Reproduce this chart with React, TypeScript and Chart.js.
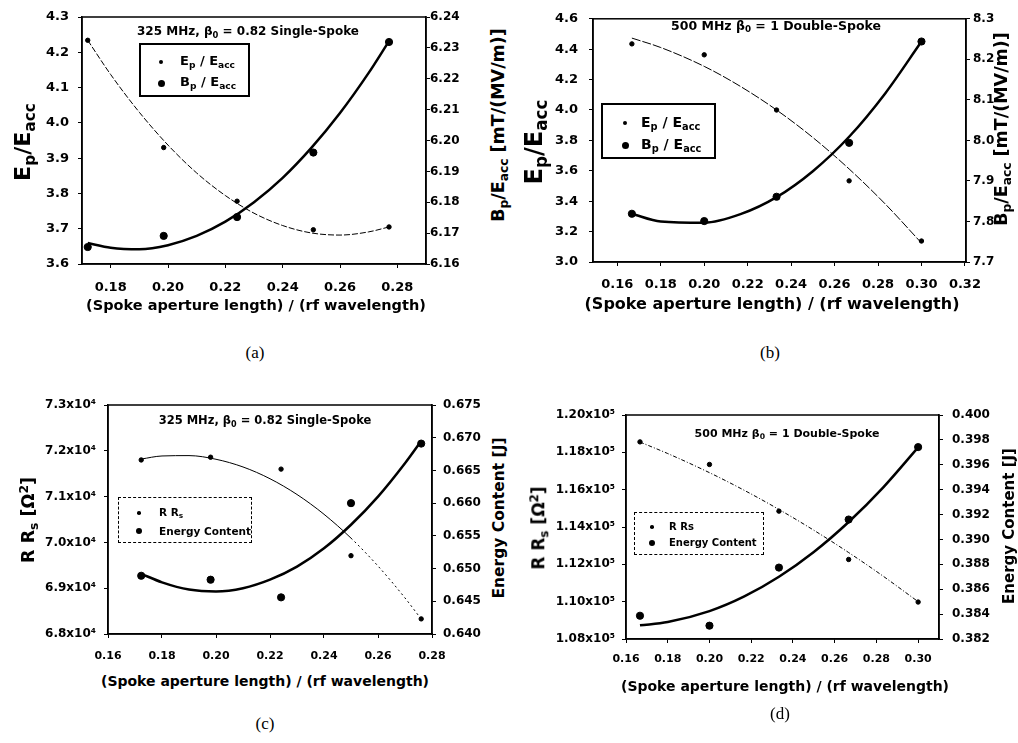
import React, { useEffect, useRef } from "react";
import { Chart, registerables } from "chart.js";
Chart.register(...registerables);

// ---------- (a) 325 MHz, beta0 = 0.82 single-spoke : peak fields ----------
const aX = [0.172, 0.1985, 0.2241, 0.2507, 0.2771];
const aEp = [4.234, 3.93, 3.778, 3.697, 3.705];
const aBp = [6.1655, 6.1691, 6.1752, 6.1961, 6.2319];
const aFitX = [0.172, 0.18, 0.19, 0.2, 0.21, 0.22, 0.23, 0.24, 0.25, 0.26, 0.27, 0.2771];
const aEpFit = [4.234, 4.137, 4.03, 3.937, 3.858, 3.794, 3.744, 3.709, 3.688, 3.682, 3.691, 3.705];
const aBpFit = [6.1668, 6.1653, 6.1648, 6.1661, 6.1691, 6.1737, 6.18, 6.1879, 6.1976, 6.2089, 6.2219, 6.2322];
const aXTicks = [0.18, 0.2, 0.22, 0.24, 0.26, 0.28];
const aYTicks = [3.6, 3.7, 3.8, 3.9, 4.0, 4.1, 4.2, 4.3];
const aY2Ticks = [6.16, 6.17, 6.18, 6.19, 6.2, 6.21, 6.22, 6.23, 6.24];

// ---------- (b) 500 MHz, beta0 = 1 double-spoke : peak fields ----------
const bX = [0.1667, 0.2, 0.2333, 0.2667, 0.3];
const bEp = [4.435, 4.363, 4.0, 3.534, 3.138];
const bBp = [7.819, 7.801, 7.861, 7.994, 8.244];
const bFitX = [0.1667, 0.18, 0.2, 0.2167, 0.2333, 0.25, 0.2667, 0.2833, 0.3];
const bEpFit = [4.473, 4.411, 4.287, 4.155, 4.0, 3.819, 3.612, 3.382, 3.125];
const bBpFit = [7.819, 7.8, 7.797, 7.818, 7.86, 7.924, 8.009, 8.116, 8.244];
const bXTicks = [0.16, 0.18, 0.2, 0.22, 0.24, 0.26, 0.28, 0.3, 0.32];
const bYTicks = [3.0, 3.2, 3.4, 3.6, 3.8, 4.0, 4.2, 4.4, 4.6];
const bY2Ticks = [7.7, 7.8, 7.9, 8.0, 8.1, 8.2, 8.3];

// ---------- (c) 325 MHz single-spoke : R Rs and energy ----------
const cX = [0.1723, 0.198, 0.2241, 0.25, 0.276];
const cRRs = [71800, 71860, 71600, 69710, 68330];
const cEnergy = [0.6489, 0.6483, 0.6456, 0.66, 0.6691];
const cFitX = [0.1723, 0.18, 0.19, 0.2, 0.21, 0.22, 0.23, 0.24, 0.25, 0.26, 0.27, 0.276];
const cRRsFit = [71820, 71887, 71895, 71815, 71647, 71390, 71046, 70614, 70093, 69484, 68787, 68326];
const cEnergyFit = [0.6492, 0.6479, 0.6468, 0.6465, 0.647, 0.6483, 0.6503, 0.6531, 0.6567, 0.661, 0.6661, 0.6695];
const cXTicks = [0.16, 0.18, 0.2, 0.22, 0.24, 0.26, 0.28];
const cYTicks = [68000, 69000, 70000, 71000, 72000, 73000];
const cY2Ticks = [0.64, 0.645, 0.65, 0.655, 0.66, 0.665, 0.67, 0.675];

// ---------- (d) 500 MHz double-spoke : R Rs and energy ----------
const dX = [0.1667, 0.2, 0.2333, 0.2667, 0.3];
const dRRs = [118560, 117350, 114850, 112260, 109980];
const dEnergy = [0.38387, 0.38307, 0.38774, 0.3916, 0.39742];
const dFitX = [0.1667, 0.18, 0.2, 0.2167, 0.2333, 0.25, 0.2667, 0.2833, 0.3];
const dRRsFit = [118550, 117935, 116910, 115964, 114940, 113827, 112632, 111361, 110000];
const dEnergyFit = [0.3831, 0.38336, 0.38424, 0.38542, 0.387, 0.38899, 0.3914, 0.39419, 0.3974];
const dXTicks = [0.16, 0.18, 0.2, 0.22, 0.24, 0.26, 0.28, 0.3];
const dYTicks = [108000, 110000, 112000, 114000, 116000, 118000, 120000];
const dY2Ticks = [0.382, 0.384, 0.386, 0.388, 0.39, 0.392, 0.394, 0.396, 0.398, 0.4];

const FONT = "'DejaVu Sans', 'Liberation Sans', sans-serif";

type AxisCfg = {
  min: number;
  max: number;
  ticks: number[];
  fmt: (v: number) => string;
  size: number;
  pad: number;
};

type PanelCfg = {
  left: number;
  top: number;
  w: number;
  h: number;
  padTop: number;
  leftW: number;
  rightW: number;
  xH: number;
  x: AxisCfg;
  y: AxisCfg;
  y2: AxisCfg;
  fitX: number[];
  fit1: number[];
  fit2: number[];
  px: number[];
  s1: number[];
  s2: number[];
  dash1: number[];
  dashAfter?: number;
};

const boxPlugin = {
  id: "frameBox",
  afterDraw(chart: any) {
    const { ctx, chartArea: a } = chart;
    ctx.save();
    ctx.strokeStyle = "#000";
    ctx.lineWidth = 1.5;
    ctx.strokeRect(a.left, a.top, a.right - a.left, a.bottom - a.top);
    ctx.restore();
  },
};

function axisOpts(c: AxisCfg, extra: any) {
  return {
    type: "linear",
    min: c.min,
    max: c.max,
    afterBuildTicks: (s: any) => {
      s.ticks = c.ticks.map((v) => ({ value: v }));
    },
    ticks: {
      callback: (v: any) => c.fmt(Number(v)),
      color: "#000",
      font: { family: FONT, weight: "bold", size: c.size },
      padding: c.pad,
      autoSkip: false,
      maxRotation: 0,
      minRotation: 0,
    },
    grid: {
      display: true,
      drawOnChartArea: false,
      drawTicks: true,
      tickLength: 4,
      color: "#000",
      lineWidth: 1,
    },
    border: { display: true, color: "#000", width: 1.5 },
    ...extra,
  };
}

function Panel({ cfg }: { cfg: PanelCfg }) {
  const ref = useRef<HTMLCanvasElement | null>(null);
  useEffect(() => {
    if (!ref.current) return;
    const dashAfter = cfg.dashAfter;
    const chart = new Chart(ref.current, {
      type: "scatter",
      data: {
        datasets: [
          {
            type: "line",
            data: cfg.fitX.map((x, i) => ({ x, y: cfg.fit1[i] })),
            yAxisID: "y",
            borderColor: "#000",
            borderWidth: 1,
            borderDash: dashAfter === undefined ? cfg.dash1 : [],
            segment:
              dashAfter === undefined
                ? undefined
                : { borderDash: (ctx: any) => (ctx.p0.parsed.x >= dashAfter ? cfg.dash1 : undefined) },
            pointRadius: 0,
            cubicInterpolationMode: "monotone",
            fill: false,
          } as any,
          {
            type: "line",
            data: cfg.fitX.map((x, i) => ({ x, y: cfg.fit2[i] })),
            yAxisID: "y2",
            borderColor: "#000",
            borderWidth: 2.5,
            pointRadius: 0,
            cubicInterpolationMode: "monotone",
            fill: false,
          } as any,
          {
            type: "scatter",
            data: cfg.px.map((x, i) => ({ x, y: cfg.s1[i] })),
            yAxisID: "y",
            pointRadius: 2.2,
            pointStyle: "circle",
            backgroundColor: "#000",
            borderColor: "#000",
          } as any,
          {
            type: "scatter",
            data: cfg.px.map((x, i) => ({ x, y: cfg.s2[i] })),
            yAxisID: "y2",
            pointRadius: 3.6,
            pointStyle: "circle",
            backgroundColor: "#000",
            borderColor: "#000",
          } as any,
        ],
      },
      options: {
        responsive: false,
        animation: false,
        layout: { padding: { top: cfg.padTop, left: 0, right: 0, bottom: 0 } },
        plugins: { legend: { display: false }, tooltip: { enabled: false } },
        scales: {
          x: axisOpts(cfg.x, {
            position: "bottom",
            afterFit: (s: any) => {
              s.height = cfg.xH;
            },
          }),
          y: axisOpts(cfg.y, {
            position: "left",
            afterFit: (s: any) => {
              s.width = cfg.leftW;
            },
          }),
          y2: axisOpts(cfg.y2, {
            position: "right",
            afterFit: (s: any) => {
              s.width = cfg.rightW;
            },
          }),
        },
      } as any,
      plugins: [boxPlugin],
    });
    return () => chart.destroy();
  }, []);
  return (
    <canvas
      ref={ref}
      width={cfg.w}
      height={cfg.h}
      style={{ position: "absolute", left: cfg.left, top: cfg.top, width: cfg.w, height: cfg.h }}
    />
  );
}

const f1 = (v: number) => v.toFixed(1);
const f2 = (v: number) => v.toFixed(2);
const f3 = (v: number) => v.toFixed(3);

const panelA: PanelCfg = {
  left: 0, top: 0, w: 475, h: 300, padTop: 17, leftW: 82, rightW: 49, xH: 36,
  x: { min: 0.17, max: 0.29, ticks: aXTicks, fmt: f2, size: 13, pad: 12 },
  y: { min: 3.6, max: 4.3, ticks: aYTicks, fmt: f1, size: 13, pad: 9 },
  y2: { min: 6.16, max: 6.24, ticks: aY2Ticks, fmt: f2, size: 12, pad: 0 },
  fitX: aFitX, fit1: aEpFit, fit2: aBpFit, px: aX, s1: aEp, s2: aBp, dash1: [6, 2],
};

const panelB: PanelCfg = {
  left: 520, top: 0, w: 498, h: 300, padTop: 10, leftW: 73, rightW: 52, xH: 38,
  x: { min: 0.1488, max: 0.3205, ticks: bXTicks, fmt: f2, size: 13, pad: 11 },
  y: { min: 3.0, max: 4.6, ticks: bYTicks, fmt: f1, size: 13, pad: 11 },
  y2: { min: 7.7, max: 8.3, ticks: bY2Ticks, fmt: f1, size: 12, pad: 3 },
  fitX: bFitX, fit1: bEpFit, fit2: bBpFit, px: bX, s1: bEp, s2: bBp, dash1: [9, 2],
};

const panelC: PanelCfg = {
  left: 0, top: 380, w: 490, h: 290, padTop: 25, leftW: 108, rightW: 58, xH: 36,
  x: { min: 0.16, max: 0.28, ticks: cXTicks, fmt: f2, size: 11, pad: 12 },
  y: { min: 68000, max: 73000, ticks: cYTicks, fmt: (v) => (v / 10000).toFixed(1) + "x10\u2074", size: 12, pad: 8 },
  y2: { min: 0.64, max: 0.675, ticks: cY2Ticks, fmt: f3, size: 12, pad: 7 },
  fitX: cFitX, fit1: cRRsFit, fit2: cEnergyFit, px: cX, s1: cRRs, s2: cEnergy, dash1: [2, 3], dashAfter: 0.245,
};

const panelD: PanelCfg = {
  left: 520, top: 380, w: 490, h: 300, padTop: 35, leftW: 106, rightW: 71, xH: 41,
  x: { min: 0.16, max: 0.31, ticks: dXTicks, fmt: f2, size: 11, pad: 10 },
  y: { min: 108000, max: 120000, ticks: dYTicks, fmt: (v) => (v / 100000).toFixed(2) + "x10\u2075", size: 12, pad: 7 },
  y2: { min: 0.382, max: 0.4, ticks: dY2Ticks, fmt: f3, size: 12, pad: 9 },
  fitX: dFitX, fit1: dRRsFit, fit2: dEnergyFit, px: dX, s1: dRRs, s2: dEnergy, dash1: [4, 2, 1, 2],
};

const Sub = ({ children }: { children: any }) => (
  <span style={{ fontSize: "0.7em", verticalAlign: "-0.3em" }}>{children}</span>
);
const Sup = ({ children }: { children: any }) => (
  <span style={{ fontSize: "0.7em", verticalAlign: "0.5em" }}>{children}</span>
);

function T({
  x, y, size, rot, serif, children,
}: { x: number; y: number; size: number; rot?: boolean; serif?: boolean; children: any }) {
  return (
    <div
      style={{
        position: "absolute",
        left: x,
        top: y,
        transform: "translate(-50%, -50%)" + (rot ? " rotate(-90deg)" : ""),
        fontFamily: serif ? "'Liberation Serif', 'DejaVu Serif', serif" : FONT,
        fontWeight: serif ? "normal" : "bold",
        fontSize: size,
        whiteSpace: "nowrap",
        lineHeight: 1,
        color: "#000",
      }}
    >
      {children}
    </div>
  );
}

function Box({ l, t, w, h, bw, dashed }: { l: number; t: number; w: number; h: number; bw: number; dashed?: boolean }) {
  return (
    <div
      style={{
        position: "absolute",
        left: l,
        top: t,
        width: w,
        height: h,
        boxSizing: "border-box",
        border: `${bw}px ${dashed ? "dashed" : "solid"} #000`,
      }}
    />
  );
}

function Dot({ x, y, r }: { x: number; y: number; r: number }) {
  return (
    <div
      style={{
        position: "absolute",
        left: x - r,
        top: y - r,
        width: 2 * r,
        height: 2 * r,
        borderRadius: "50%",
        background: "#000",
      }}
    />
  );
}

function LText({ x, y, size, children }: { x: number; y: number; size: number; children: any }) {
  return (
    <div
      style={{
        position: "absolute",
        left: x,
        top: y,
        transform: "translateY(-50%)",
        fontFamily: FONT,
        fontWeight: "bold",
        fontSize: size,
        whiteSpace: "nowrap",
        lineHeight: 1,
      }}
    >
      {children}
    </div>
  );
}

const XTITLE = "(Spoke aperture length) / (rf wavelength)";

export default function App() {
  return (
    <div style={{ position: "absolute", left: 0, top: 0, width: 1018, height: 743, background: "#fff", overflow: "hidden" }}>
      <Panel cfg={panelA} />
      <Panel cfg={panelB} />
      <Panel cfg={panelC} />
      <Panel cfg={panelD} />

      {/* (a) */}
      <T x={25} y={142} size={22} rot>E<Sub>p</Sub>/E<Sub>acc</Sub></T>
      <T x={500} y={125} size={17.5} rot>B<Sub>p</Sub>/E<Sub>acc</Sub> [mT/(MV/m)]</T>
      <T x={256} y={305} size={14.5}>{XTITLE}</T>
      <T x={255} y={352} size={17} serif>(a)</T>
      <T x={248} y={32} size={12}>325 MHz, β<Sub>0</Sub> = 0.82 Single-Spoke</T>
      <Box l={139} t={43} w={111} h={54} bw={2} />
      <Dot x={161} y={62} r={2} />
      <Dot x={161} y={83} r={3.5} />
      <LText x={180} y={62} size={13}>E<Sub>p</Sub> / E<Sub>acc</Sub></LText>
      <LText x={180} y={83} size={13}>B<Sub>p</Sub> / E<Sub>acc</Sub></LText>

      {/* (b) */}
      <T x={536} y={142} size={24} rot>E<Sub>p</Sub>/E<Sub>acc</Sub></T>
      <T x={1003} y={129} size={17.5} rot>B<Sub>p</Sub>/E<Sub>acc</Sub> [mT/(MV/m)]</T>
      <T x={772} y={304} size={16}>{XTITLE}</T>
      <T x={770} y={352} size={17} serif>(b)</T>
      <T x={776} y={27} size={12.5}>500 MHz β<Sub>0</Sub> = 1 Double-Spoke</T>
      <Box l={601} t={103} w={115} h={56} bw={2} />
      <Dot x={625} y={123} r={2} />
      <Dot x={625} y={145} r={3.5} />
      <LText x={641} y={123} size={14}>E<Sub>p</Sub> / E<Sub>acc</Sub></LText>
      <LText x={641} y={145} size={14}>B<Sub>p</Sub> / E<Sub>acc</Sub></LText>

      {/* (c) */}
      <T x={29} y={520} size={17.5} rot>R R<Sub>s</Sub> [Ω<Sup>2</Sup>]</T>
      <T x={500} y={518} size={15.5} rot>Energy Content [J]</T>
      <T x={265} y={681} size={14}>{XTITLE}</T>
      <T x={265} y={723} size={17} serif>(c)</T>
      <T x={265} y={422} size={11.5}>325 MHz, β<Sub>0</Sub> = 0.82 Single-Spoke</T>
      <Box l={118} t={497} w={134} h={46} bw={1.5} dashed />
      <Dot x={139} y={513} r={1.8} />
      <Dot x={139} y={531} r={3} />
      <LText x={159} y={513} size={10.5}>R R<Sub>s</Sub></LText>
      <LText x={159} y={531} size={10.5}>Energy Content</LText>

      {/* (d) */}
      <T x={540} y={528} size={17} rot>R R<Sub>s</Sub> [Ω<Sup>2</Sup>]</T>
      <T x={1009} y={526} size={15} rot>Energy Content [J]</T>
      <T x={785} y={686} size={14}>{XTITLE}</T>
      <T x={780} y={713} size={17} serif>(d)</T>
      <T x={787} y={434} size={11}>500 MHz β<Sub>0</Sub> = 1 Double-Spoke</T>
      <Box l={634} t={512} w={130} h={43} bw={1.5} dashed />
      <Dot x={652} y={527} r={1.8} />
      <Dot x={652} y={543} r={3} />
      <LText x={669} y={527} size={10}>R Rs</LText>
      <LText x={669} y={543} size={10}>Energy Content</LText>
    </div>
  );
}
